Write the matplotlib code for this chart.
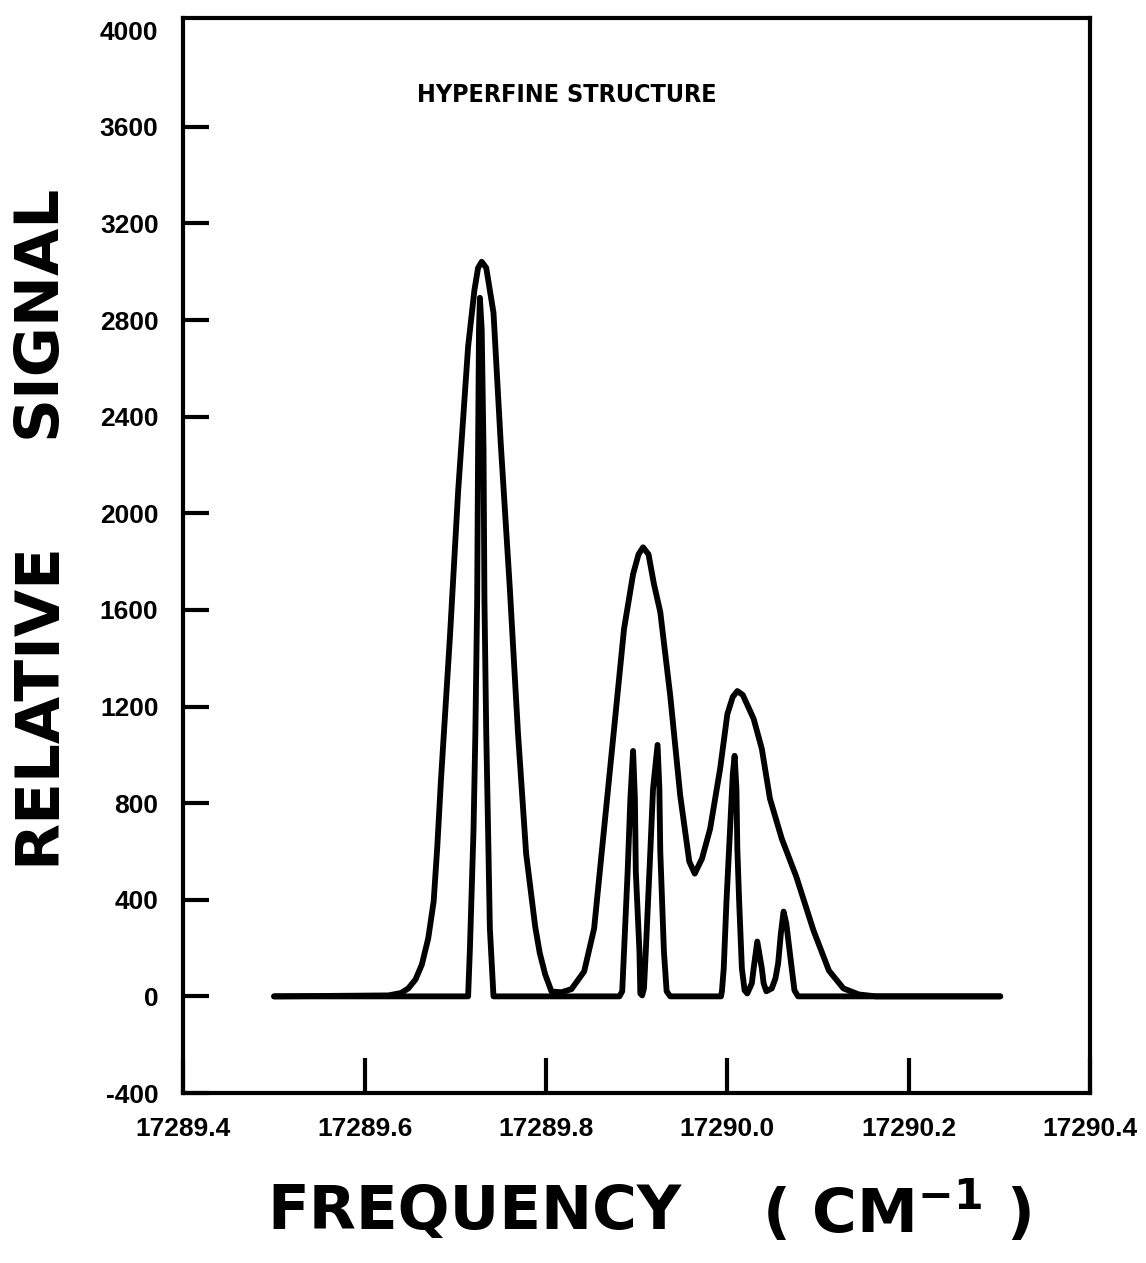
import matplotlib
matplotlib.use("Agg")
import matplotlib.pyplot as plt

# broad (unresolved) profile
freq_env = [17289.500, 17289.626, 17289.640, 17289.648, 17289.656, 17289.663,
            17289.670, 17289.676, 17289.680, 17289.684,
            17289.694, 17289.703, 17289.714, 17289.721, 17289.725, 17289.729,
            17289.734, 17289.742, 17289.750, 17289.760, 17289.769, 17289.778,
            17289.788, 17289.793, 17289.799, 17289.806, 17289.817, 17289.828,
            17289.842, 17289.853, 17289.864, 17289.875, 17289.886, 17289.896,
            17289.902, 17289.907, 17289.913, 17289.919, 17289.926, 17289.937,
            17289.948, 17289.958, 17289.964, 17289.972, 17289.981, 17289.992,
            17290.000, 17290.006, 17290.011, 17290.017, 17290.029, 17290.038,
            17290.047, 17290.060, 17290.076, 17290.095, 17290.112, 17290.128,
            17290.145, 17290.164, 17290.301]
sig_env = [0, 4, 14, 33, 70, 132,
           240, 393, 620, 893,
           1492, 2091, 2690, 2925, 3016, 3041,
           3016, 2830, 2289, 1690, 1091, 591,
           289, 180, 91, 20, 17, 30,
           103, 281, 694, 1107, 1521, 1748,
           1830, 1859, 1830, 1707, 1591, 1244,
           831, 558, 508, 570, 694, 942,
           1169, 1240, 1264, 1248, 1149, 1025,
           818, 653, 496, 273, 107, 33,
           8, 0, 0]

# resolved hyperfine components
freq_hfs = [17289.500, 17289.714, 17289.716, 17289.720, 17289.722, 17289.724,
            17289.725, 17289.726, 17289.727, 17289.729, 17289.731, 17289.732,
            17289.734, 17289.736, 17289.738, 17289.742,
            17289.881, 17289.884, 17289.886, 17289.890, 17289.893, 17289.896,
            17289.898, 17289.899, 17289.903, 17289.904, 17289.906, 17289.908,
            17289.910, 17289.915, 17289.918, 17289.923, 17289.925, 17289.926,
            17289.930, 17289.933, 17289.937,
            17289.993, 17289.994, 17289.996, 17289.999, 17290.003, 17290.006,
            17290.008, 17290.010, 17290.011, 17290.013, 17290.016, 17290.019,
            17290.022, 17290.027, 17290.029, 17290.033, 17290.038, 17290.040,
            17290.043, 17290.049, 17290.053, 17290.056, 17290.059, 17290.062,
            17290.065, 17290.067, 17290.071, 17290.074, 17290.078, 17290.301]
sig_hfs = [0, 0, 198, 694, 1091, 1645,
           2264, 2760, 2892, 2760, 2264, 1645,
           1091, 694, 281, 0,
           0, 21, 186, 517, 818, 1016,
           818, 517, 186, 12, 4, 33,
           186, 599, 859, 1041, 859, 599,
           186, 21, 0,
           0, 21, 116, 393, 694, 921,
           996, 859, 612, 393, 116, 25,
           12, 54, 116, 227, 116, 54,
           21, 33, 74, 136, 260, 351,
           302, 240, 116, 25, 0, 0]

xticks = [17289.4, 17289.6, 17289.8, 17290.0, 17290.2, 17290.4]
xlabels = ["17289.4", "17289.6", "17289.8", "17290.0", "17290.2", "17290.4"]
yticks = list(range(-400, 4001, 400))

tickfont = ["Liberation Sans", "DejaVu Sans"]

fig = plt.figure(figsize=(11.46, 12.63), dpi=100)
ax = fig.add_axes([0.1601, 0.1346, 0.7910, 0.8511])

ax.plot(freq_env, sig_env, color="black", lw=4.2, solid_joinstyle="round",
        solid_capstyle="round")
ax.plot(freq_hfs, sig_hfs, color="black", lw=4.2, solid_joinstyle="round",
        solid_capstyle="round")

ax.set_xlim(17289.4, 17290.4)
ax.set_ylim(-400, 4050)

for s in ax.spines.values():
    s.set_linewidth(3)

ax.set_xticks(xticks)
ax.set_xticklabels(xlabels, fontfamily=tickfont, fontweight="bold", fontsize=19)
ax.set_yticks(yticks)
ax.set_yticklabels([str(v) for v in yticks], fontfamily=tickfont,
                   fontweight="bold", fontsize=19)
ax.tick_params(axis="x", direction="in", length=25, width=3, pad=17)
ax.tick_params(axis="y", direction="in", length=19, width=3, pad=18)
# no mark at the top value
ax.yaxis.get_major_ticks()[-1].tick1line.set_visible(False)

fig.text(0.495, 0.925, "HYPERFINE STRUCTURE", ha="center", va="center",
         fontsize=18, fontweight="bold", fontstretch="condensed",
         family="DejaVu Sans")

fig.text(0.033, 0.443, "RELATIVE", rotation=90, ha="center", va="center",
         fontsize=44, fontweight="bold")
fig.text(0.033, 0.754, "SIGNAL", rotation=90, ha="center", va="center",
         fontsize=44, fontweight="bold")

fig.text(0.414, 0.040, "FREQUENCY", ha="center", va="center",
         fontsize=44, fontweight="bold")
fig.text(0.782, 0.040, r"( CM$^{\mathbf{-1}}$ )", ha="center", va="center",
         fontsize=44, fontweight="bold")

fig.savefig("out.png", dpi=100)
